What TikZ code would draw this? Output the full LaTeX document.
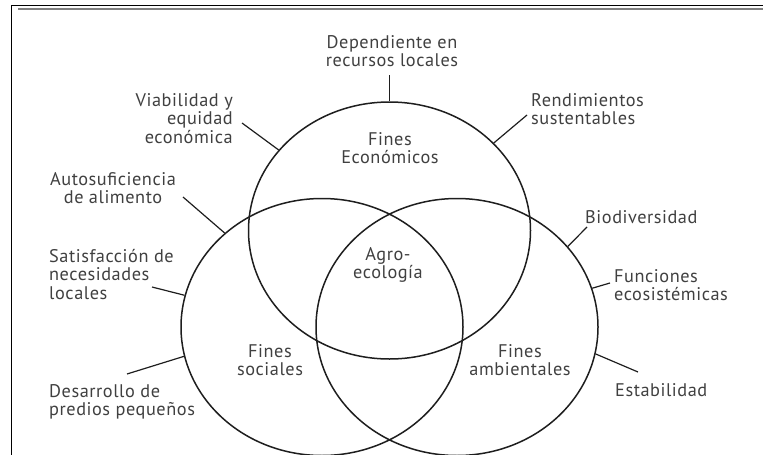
\documentclass[tikz,border=0pt]{standalone}
\usepackage{fontspec}
\setmainfont{PT Sans}[LetterSpace=3]
\usetikzlibrary{shapes.geometric}
\definecolor{txt}{HTML}{404040}
\definecolor{ink}{HTML}{1E1E1E}
\tikzset{
  venn/.style={ellipse, draw=ink, line width=1.5pt, minimum width=282pt, minimum height=257pt, inner sep=0pt},
  lbl/.style={text=txt, font=\fontsize{18.3}{18.7}\selectfont, inner sep=0pt},
  conn/.style={draw=ink, line width=1.2pt},
}
\begin{document}
\begin{tikzpicture}[x=1pt,y=-1pt]
\useasboundingbox (0,0) rectangle (763,455);
% frame
\draw[line width=1pt] (11.7,455) -- (11.7,5.3) -- (763,5.3);
\draw[line width=2pt, black!50] (18,9.3) -- (763,9.3);
% circles
\node[venn] (E) at (389.5,230.5) {};
\node[venn] (S) at (322,327) {};
\node[venn] (A) at (457,327) {};
% inner labels (y = baseline of last line)
\node[lbl, align=center, anchor=base] (fe) at (390,163.7) {Fines\\Económicos};
\node[lbl, align=center, anchor=base] (ag) at (388,278.7) {Agro-\\ecología};
\node[lbl, align=center, anchor=base] (fs) at (270,375.7) {Fines\\sociales};
\node[lbl, align=center, anchor=base] (fa) at (520,375.7) {Fines\\ambientales};
% outer labels
\node[lbl, align=center, anchor=base] (dep) at (392,66.7) {Dependiente en\\recursos locales};
\node[lbl, align=right, anchor=base east] (via) at (233,143.4) {Viabilidad y\\equidad\\económica};
\node[lbl, align=center, anchor=base] (aut) at (113,203.7) {Autosuficiencia\\de alimento};
\node[lbl, align=left, anchor=base west] (sat) at (49,299.4) {Satisfacción de\\necesidades\\locales};
\node[lbl, align=left, anchor=base west] (des) at (49,415.7) {Desarrollo de\\predios pequeños};
\node[lbl, align=left, anchor=base west] (ren) at (531,124.7) {Rendimientos\\sustentables};
\node[lbl, align=left, anchor=base west] (bio) at (585,223) {Biodiversidad};
\node[lbl, align=left, anchor=base west] (fun) at (614,300.7) {Funciones\\ecosistémicas};
\node[lbl, align=left, anchor=base west] (est) at (615,396) {Estabilidad};
% connector free ends
\coordinate (cdep) at (389.5,75);
\coordinate (cvia) at (242,123);
\coordinate (cren) at (527,115);
\coordinate (caut) at (183,197);
\coordinate (csat) at (152,287);
\coordinate (cdes) at (127,374);
\coordinate (cbio) at (587,227);
\coordinate (cfun) at (610,283);
\coordinate (cest) at (638,372);
% connectors
\draw[conn] (cdep) -- (E.90);
\draw[conn] (cvia) -- (E.144);
\draw[conn] (cren) -- (E.40);
\draw[conn] (caut) -- (S.136);
\draw[conn] (csat) -- (S.167);
\draw[conn] (cdes) -- (S.192);
\draw[conn] (cbio) -- (A.36);
\draw[conn] (cfun) -- (A.16);
\draw[conn] (cest) -- (A.-11);
\end{tikzpicture}
\end{document}
